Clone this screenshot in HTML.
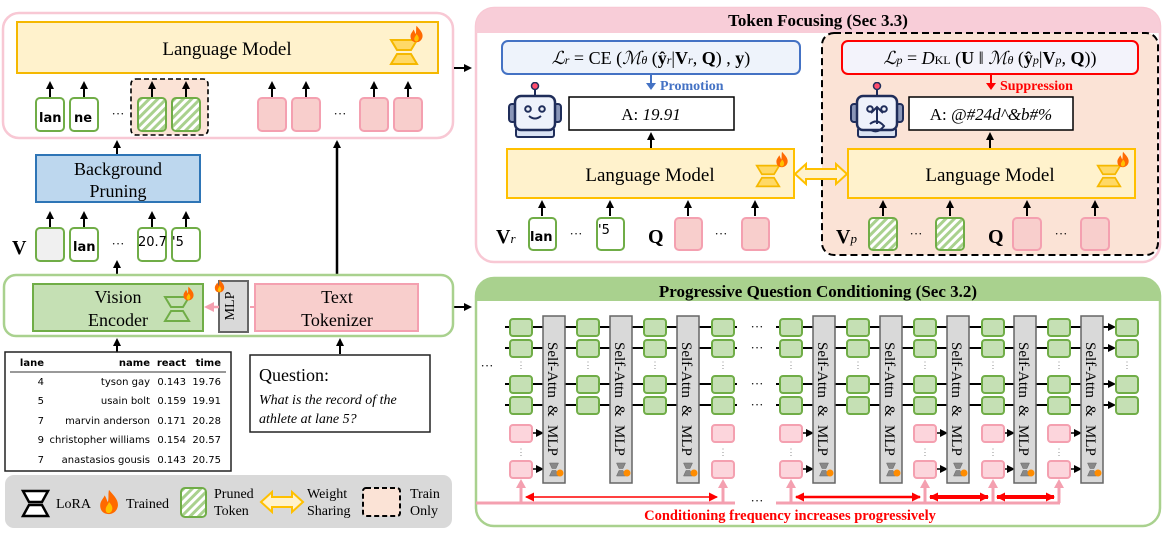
<!DOCTYPE html>
<html><head><meta charset="utf-8"><style>
html,body{margin:0;padding:0;background:#fff}
svg{display:block}
.s{font-family:"Liberation Serif",serif}
.d{font-family:"DejaVu Sans","Liberation Sans",sans-serif}
</style></head><body>
<svg width="1163" height="535" viewBox="0 0 1163 535" xmlns="http://www.w3.org/2000/svg">
<defs>
<pattern id="h" width="6" height="6" patternUnits="userSpaceOnUse" patternTransform="rotate(45)">
<rect width="6" height="6" fill="#fff"/><rect width="3" height="6" fill="#a9d18e"/></pattern>
<marker id="a" markerWidth="8" markerHeight="8" refX="6" refY="4" orient="auto" markerUnits="userSpaceOnUse"><path d="M0,0 L8,4 L0,8z" fill="#000"/></marker>
<marker id="ap" markerWidth="10" markerHeight="10" refX="7" refY="5" orient="auto" markerUnits="userSpaceOnUse"><path d="M0,0 L10,5 L0,10z" fill="#f4a0b0"/></marker>
<marker id="ar" markerWidth="9" markerHeight="9" refX="8" refY="4.5" orient="auto-start-reverse" markerUnits="userSpaceOnUse"><path d="M0,0 L9,4.5 L0,9z" fill="#f00"/></marker>
<symbol id="lora" viewBox="0 0 30 28"><path d="M2,2 H28 L22,12 H8z M8,16 H22 L28,26 H2z" fill="#ffd966" stroke="#f5b800" stroke-width="2"/></symbol>
<symbol id="flame" viewBox="0 0 20 24"><path d="M10,1 C14,6 19,10 18,16 C17,21 13,23 10,23 C6,23 2,21 2,15 C2,11 5,9 6,6 C8,9 8,11 9,12 C10,8 9,5 10,1z" fill="#ff6a00"/><path d="M10,12 C13,15 14,18 12,21 C10,23 7,22 7,19 C7,16 9,15 10,12z" fill="#ffc000"/></symbol>
<symbol id="robot" viewBox="0 0 54 56"><line x1="27" y1="4" x2="27" y2="14" stroke="#1f2d5a" stroke-width="2"/><circle cx="27" cy="4" r="3.5" fill="#ff4d6d" stroke="#1f2d5a" stroke-width="1.5"/><rect x="1" y="22" width="7" height="18" rx="3" fill="#8a96b8" stroke="#1f2d5a" stroke-width="2"/><rect x="46" y="22" width="7" height="18" rx="3" fill="#8a96b8" stroke="#1f2d5a" stroke-width="2"/><rect x="8" y="46" width="38" height="9" rx="2" fill="#dae3f3" stroke="#1f2d5a" stroke-width="2"/><rect x="7" y="14" width="40" height="34" rx="6" fill="#eef2fb" stroke="#1f2d5a" stroke-width="2.5"/><circle cx="20" cy="27" r="2.8" fill="none" stroke="#1f2d5a" stroke-width="2"/><circle cx="34" cy="27" r="2.8" fill="none" stroke="#1f2d5a" stroke-width="2"/></symbol>
<symbol id="glora" viewBox="0 0 20 28"><path d="M1,1 H19 L14,12 H6z M6,16 H14 L19,27 H1z" fill="#888" stroke="#666" stroke-width="1"/></symbol>
<g id="sa" class="s" font-size="15"><text transform="rotate(90)" x="26" y="-5">Self-Attn</text><text transform="rotate(90)" x="89" y="-5">&amp;</text><text transform="rotate(90)" x="109" y="-5">MLP</text></g>
</defs>

<!-- ===== top-left panel ===== -->
<rect x="3" y="13" width="450" height="125" rx="16" fill="#fff" stroke="#f8c8d4" stroke-width="2.5"/>
<rect x="17" y="22" width="421" height="51" fill="#fff2cc" stroke="#f5b800" stroke-width="2"/>
<text x="227" y="55" class="s" font-size="19" text-anchor="middle">Language Model</text>
<use href="#lora" x="389" y="38" width="30" height="28"/>
<use href="#flame" x="409" y="25" width="15" height="18"/>
<rect x="131" y="79" width="77" height="56" rx="5" fill="#fbe3d6" stroke="#000" stroke-width="1.6" stroke-dasharray="5,3"/>
<g stroke="#70ad47" stroke-width="2">
<rect x="36" y="98" width="28" height="33" rx="4" fill="#fff"/>
<rect x="70" y="98" width="28" height="33" rx="4" fill="#fff"/>
<rect x="138" y="98" width="28" height="33" rx="4" fill="url(#h)"/>
<rect x="172" y="98" width="28" height="33" rx="4" fill="url(#h)"/>
</g>
<text x="39" y="122" class="d" font-size="13" font-weight="bold">lan</text>
<text x="74" y="122" class="d" font-size="13" font-weight="bold">ne</text>
<text x="118" y="118" class="s" font-size="13" text-anchor="middle">···</text>
<g stroke="#f4a0b0" stroke-width="2" fill="#f8cecc">
<rect x="258" y="98" width="28" height="33" rx="4"/><rect x="292" y="98" width="28" height="33" rx="4"/>
<rect x="360" y="98" width="28" height="33" rx="4"/><rect x="394" y="98" width="28" height="33" rx="4"/>
</g>
<text x="340" y="118" class="s" font-size="13" text-anchor="middle">···</text>
<g stroke="#000" stroke-width="2" marker-end="url(#a)">
<line x1="50" y1="97" x2="50" y2="83"/><line x1="84" y1="97" x2="84" y2="83"/>
<line x1="152" y1="97" x2="152" y2="83"/><line x1="186" y1="97" x2="186" y2="83"/>
<line x1="272" y1="97" x2="272" y2="83"/><line x1="306" y1="97" x2="306" y2="83"/>
<line x1="374" y1="97" x2="374" y2="83"/><line x1="408" y1="97" x2="408" y2="83"/>
<line x1="454" y1="68" x2="470" y2="68"/>
<line x1="117" y1="154" x2="117" y2="142"/>
<line x1="337" y1="280" x2="337" y2="142" stroke-width="2.5"/>
<line x1="50" y1="227" x2="50" y2="213"/><line x1="84" y1="227" x2="84" y2="213"/>
<line x1="152" y1="227" x2="152" y2="213"/><line x1="186" y1="227" x2="186" y2="213"/>
<line x1="117" y1="274" x2="117" y2="262"/>
<line x1="117" y1="352" x2="117" y2="340"/><line x1="340" y1="354" x2="340" y2="340"/>
<line x1="454" y1="307" x2="470" y2="307"/>
</g>
<rect x="36" y="155" width="164" height="47" fill="#bdd7ee" stroke="#2e75b6" stroke-width="2"/>
<text x="118" y="175" class="s" font-size="18" text-anchor="middle">Background</text>
<text x="118" y="197" class="s" font-size="18" text-anchor="middle">Pruning</text>
<text x="12" y="254" class="s" font-size="20" font-weight="bold">V</text>
<g stroke="#70ad47" stroke-width="2">
<rect x="36" y="228" width="28" height="33" rx="4" fill="#f0f0f0"/>
<rect x="70" y="228" width="28" height="33" rx="4" fill="#fff"/>
<rect x="138" y="228" width="28" height="33" rx="4" fill="#fff"/>
<rect x="172" y="228" width="28" height="33" rx="4" fill="#fff"/>
</g>
<text x="73" y="251" class="d" font-size="13" font-weight="bold">lan</text>
<text x="138" y="246" class="d" font-size="13">20.7</text>
<text x="172" y="246" class="d" font-size="13">'5</text>
<text x="118" y="248" class="s" font-size="13" text-anchor="middle">···</text>

<!-- ===== encoder panel ===== -->
<rect x="4" y="275" width="449" height="61" rx="12" fill="#fff" stroke="#a9d18e" stroke-width="2.5"/>
<rect x="33" y="284" width="170" height="47" fill="#c5e0b4" stroke="#70ad47" stroke-width="2"/>
<text x="118" y="303" class="s" font-size="18" text-anchor="middle">Vision</text>
<text x="118" y="326" class="s" font-size="18" text-anchor="middle">Encoder</text>
<path d="M165,297 H189 L183,307 H171z M171,311 H183 L189,321 H165z" fill="#c5e0b4" stroke="#70ad47" stroke-width="2"/>
<use href="#flame" x="182" y="286" width="13" height="15"/>
<rect x="219" y="281" width="29" height="51" fill="#d9d9d9" stroke="#666" stroke-width="2"/>
<text x="238" y="306" class="s" font-size="14" text-anchor="middle" transform="rotate(-90 238 306)" dy="-4">MLP</text>
<use href="#flame" x="212" y="279" width="15" height="14"/>
<rect x="255" y="284" width="163" height="47" fill="#f8cecc" stroke="#f4a0b0" stroke-width="2"/>
<text x="337" y="303" class="s" font-size="18" text-anchor="middle">Text</text>
<text x="337" y="326" class="s" font-size="18" text-anchor="middle">Tokenizer</text>
<line x1="255" y1="307" x2="250" y2="307" stroke="#f4a0b0" stroke-width="2"/>
<line x1="219" y1="307" x2="207" y2="307" stroke="#f4a0b0" stroke-width="2.5" marker-end="url(#ap)"/>

<!-- table -->
<rect x="5" y="352" width="226" height="119" fill="#fff" stroke="#222" stroke-width="1.5"/>
<g class="d" font-size="10" text-anchor="end">
<g font-weight="bold"><text x="44" y="366">lane</text><text x="150" y="366">name</text><text x="186" y="366">react</text><text x="221" y="366">time</text></g>
<text x="44" y="385">4</text><text x="150" y="385">tyson gay</text><text x="186" y="385">0.143</text><text x="221" y="385">19.76</text>
<text x="44" y="404">5</text><text x="150" y="404">usain bolt</text><text x="186" y="404">0.159</text><text x="221" y="404">19.91</text>
<text x="44" y="424">7</text><text x="150" y="424">marvin anderson</text><text x="186" y="424">0.171</text><text x="221" y="424">20.28</text>
<text x="44" y="443">9</text><text x="150" y="443">christopher williams</text><text x="186" y="443">0.154</text><text x="221" y="443">20.57</text>
<text x="44" y="463">7</text><text x="150" y="463">anastasios gousis</text><text x="186" y="463">0.143</text><text x="221" y="463">20.75</text>
</g>
<line x1="10" y1="372" x2="226" y2="372" stroke="#333" stroke-width="1"/>
<!-- question -->
<rect x="250" y="355" width="180" height="77" fill="#fff" stroke="#222" stroke-width="1.5"/>
<text x="259" y="381" class="s" font-size="18">Question:</text>
<text x="259" y="404" class="s" font-size="14" font-style="italic">What is the record of the</text>
<text x="259" y="423" class="s" font-size="14" font-style="italic">athlete at lane 5?</text>

<!-- legend -->
<rect x="5" y="475" width="447" height="53" rx="9" fill="#d9d9d9"/>
<path d="M23,491 H48 L42,502 H29z M29,505 H42 L48,516 H23z" fill="#fff" stroke="#000" stroke-width="2.5"/>
<text x="56" y="508" class="s" font-size="14">LoRA</text>
<use href="#flame" x="98" y="488" width="22" height="28"/>
<text x="126" y="508" class="s" font-size="14">Trained</text>
<rect x="181" y="488" width="25" height="29" rx="4" fill="url(#h)" stroke="#70ad47" stroke-width="2"/>
<text x="214" y="498" class="s" font-size="14">Pruned</text>
<text x="214" y="515" class="s" font-size="14">Token</text>
<path d="M261,502 L272,492 V497 H292 V492 L303,502 L292,512 V507 H272 V512z" fill="#fff2cc" stroke="#ffc000" stroke-width="2"/>
<text x="307" y="498" class="s" font-size="14">Weight</text>
<text x="307" y="515" class="s" font-size="14">Sharing</text>
<rect x="363" y="488" width="37" height="28" rx="3" fill="#fbe3d6" stroke="#000" stroke-width="2" stroke-dasharray="5,3"/>
<text x="410" y="498" class="s" font-size="14">Train</text>
<text x="410" y="515" class="s" font-size="14">Only</text>

<!-- ===== Token Focusing panel ===== -->
<rect x="476" y="8" width="684" height="254" rx="18" fill="#fff" stroke="#f8c8d4" stroke-width="2.5"/>
<path d="M476,33 V26 A18,18 0 0 1 494,8 H1142 A18,18 0 0 1 1160,26 V33z" fill="#f8cdd8"/>
<text x="818" y="26" class="s" font-size="17" font-weight="bold" text-anchor="middle">Token Focusing (Sec 3.3)</text>
<rect x="822" y="33" width="336" height="222" rx="12" fill="#fbe3d6" stroke="#000" stroke-width="2" stroke-dasharray="7,4"/>
<rect x="502" y="41" width="298" height="33" rx="6" fill="#eef3fb" stroke="#4472c4" stroke-width="2"/>
<text x="651" y="64" class="s" font-size="18" text-anchor="middle"><tspan font-style="italic">ℒ</tspan><tspan font-size="12" font-style="italic">r</tspan> = CE (<tspan font-style="italic">ℳ</tspan><tspan font-size="12" font-style="italic">θ</tspan> (<tspan font-weight="bold">ŷ</tspan><tspan font-size="12" font-style="italic">r</tspan>|<tspan font-weight="bold">V</tspan><tspan font-size="12" font-style="italic">r</tspan>, <tspan font-weight="bold">Q</tspan>) , <tspan font-weight="bold">y</tspan>)</text>
<rect x="842" y="41" width="296" height="33" rx="6" fill="#f3f3fb" stroke="#f00" stroke-width="2"/>
<text x="990" y="64" class="s" font-size="18" text-anchor="middle"><tspan font-style="italic">ℒ</tspan><tspan font-size="12" font-style="italic">p</tspan> = <tspan font-style="italic">D</tspan><tspan font-size="12">KL</tspan> (<tspan font-weight="bold">U</tspan> ‖ <tspan font-style="italic">ℳ</tspan><tspan font-size="12" font-style="italic">θ</tspan> (<tspan font-weight="bold">ŷ</tspan><tspan font-size="12" font-style="italic">p</tspan>|<tspan font-weight="bold">V</tspan><tspan font-size="12" font-style="italic">p</tspan>, <tspan font-weight="bold">Q</tspan>))</text>
<line x1="651" y1="75" x2="651" y2="84" stroke="#4472c4" stroke-width="2"/><path d="M646,83 L656,83 L651,90z" fill="#4472c4"/>
<text x="660" y="90" class="s" font-size="14" font-weight="bold" fill="#4472c4">Promotion</text>
<line x1="991" y1="75" x2="991" y2="84" stroke="#f00" stroke-width="2"/><path d="M986,83 L996,83 L991,90z" fill="#f00"/>
<text x="1000" y="90" class="s" font-size="14" font-weight="bold" fill="#f00">Suppression</text>
<use href="#robot" x="508" y="82" width="54" height="56"/>
<path d="M529,116 Q535,121 541,116" fill="none" stroke="#1f2d5a" stroke-width="2"/>
<use href="#robot" x="850" y="82" width="54" height="56"/>
<path d="M877,107 V124 M871,113 L877,107 L883,113 M870,124 Q877,118 884,126 Q878,134 871,130" fill="none" stroke="#1f2d5a" stroke-width="2"/>
<rect x="569" y="97" width="165" height="33" fill="#fff" stroke="#000" stroke-width="1.5"/>
<text x="651" y="120" class="s" font-size="17" text-anchor="middle">A: <tspan font-style="italic">19.91</tspan></text>
<rect x="909" y="97" width="164" height="33" fill="#fff" stroke="#000" stroke-width="1.5"/>
<text x="991" y="120" class="s" font-size="17" text-anchor="middle">A: <tspan font-style="italic">@#24d^&amp;b#%</tspan></text>
<g stroke="#000" stroke-width="2" marker-end="url(#a)">
<line x1="651" y1="148" x2="651" y2="134"/><line x1="990" y1="148" x2="990" y2="134"/>
<line x1="542" y1="216" x2="542" y2="202"/><line x1="610" y1="216" x2="610" y2="202"/>
<line x1="688" y1="216" x2="688" y2="202"/><line x1="755" y1="216" x2="755" y2="202"/>
<line x1="883" y1="216" x2="883" y2="202"/><line x1="950" y1="216" x2="950" y2="202"/>
<line x1="1027" y1="216" x2="1027" y2="202"/><line x1="1095" y1="216" x2="1095" y2="202"/>
</g>
<rect x="507" y="149" width="287" height="49" fill="#fff2cc" stroke="#ffc000" stroke-width="2"/>
<text x="650" y="181" class="s" font-size="19" text-anchor="middle">Language Model</text>
<use href="#lora" x="755" y="163" width="26" height="26"/><use href="#flame" x="775" y="151" width="14" height="17"/>
<rect x="848" y="149" width="287" height="49" fill="#fff2cc" stroke="#ffc000" stroke-width="2"/>
<text x="990" y="181" class="s" font-size="19" text-anchor="middle">Language Model</text>
<use href="#lora" x="1096" y="163" width="26" height="26"/><use href="#flame" x="1116" y="151" width="14" height="17"/>
<path d="M795,174 L806,164 V169 H836 V164 L847,174 L836,184 V179 H806 V184z" fill="#fff2cc" stroke="#ffc000" stroke-width="2"/>
<text x="496" y="243" class="s" font-size="20" font-weight="bold">V<tspan font-size="13" font-weight="normal" font-style="italic">r</tspan></text>
<g stroke="#70ad47" stroke-width="2" fill="#fff">
<rect x="529" y="218" width="27" height="32" rx="4"/><rect x="597" y="218" width="27" height="32" rx="4"/>
</g>
<text x="530" y="241" class="d" font-size="13" font-weight="bold">lan</text>
<text x="598" y="234" class="d" font-size="13">'5</text>
<text x="576" y="238" class="s" font-size="13" text-anchor="middle">···</text>
<text x="648" y="243" class="s" font-size="20" font-weight="bold">Q</text>
<g stroke="#f4a0b0" stroke-width="2" fill="#f8cecc">
<rect x="675" y="218" width="27" height="32" rx="4"/><rect x="742" y="218" width="27" height="32" rx="4"/>
<rect x="1013" y="218" width="28" height="32" rx="4"/><rect x="1081" y="218" width="28" height="32" rx="4"/>
</g>
<text x="721" y="238" class="s" font-size="13" text-anchor="middle">···</text>
<text x="836" y="243" class="s" font-size="20" font-weight="bold">V<tspan font-size="13" font-weight="normal" font-style="italic">p</tspan></text>
<g stroke="#70ad47" stroke-width="2" fill="url(#h)">
<rect x="869" y="218" width="28" height="32" rx="4"/><rect x="936" y="218" width="28" height="32" rx="4"/>
</g>
<text x="916" y="238" class="s" font-size="13" text-anchor="middle">···</text>
<text x="988" y="243" class="s" font-size="20" font-weight="bold">Q</text>
<text x="1061" y="238" class="s" font-size="13" text-anchor="middle">···</text>

<!-- ===== Progressive Question Conditioning ===== -->
<rect x="476" y="278" width="684" height="248" rx="18" fill="#fff" stroke="#a9d18e" stroke-width="2.5"/>
<path d="M476,301 V296 A18,18 0 0 1 494,278 H1142 A18,18 0 0 1 1160,296 V301z" fill="#a9d18e"/>
<text x="818" y="297" class="s" font-size="17" font-weight="bold" text-anchor="middle">Progressive Question Conditioning (Sec 3.2)</text>
<g stroke="#000" stroke-width="2">
<line x1="505" y1="327" x2="737" y2="327"/><line x1="776" y1="327" x2="1110" y2="327"/>
<line x1="505" y1="348" x2="737" y2="348"/><line x1="776" y1="348" x2="1110" y2="348"/>
<line x1="505" y1="384" x2="737" y2="384"/><line x1="776" y1="384" x2="1110" y2="384"/>
<line x1="505" y1="405" x2="737" y2="405"/><line x1="776" y1="405" x2="1110" y2="405"/>
</g>
<g fill="#000"><path d="M1108,323 L1116,327 L1108,331z"/><path d="M1108,344 L1116,348 L1108,352z"/><path d="M1108,380 L1116,384 L1108,388z"/><path d="M1108,401 L1116,405 L1108,409z"/></g>
<g class="s" font-size="13" text-anchor="middle"><text x="757" y="331">···</text><text x="757" y="352">···</text><text x="757" y="388">···</text><text x="757" y="409">···</text><text x="487" y="370">···</text></g>
<g stroke="#70ad47" stroke-width="2" fill="#c5e0b4">
<rect x="510" y="319" width="22" height="17" rx="3"/><rect x="510" y="340" width="22" height="17" rx="3"/><rect x="510" y="376" width="22" height="17" rx="3"/><rect x="510" y="397" width="22" height="17" rx="3"/>
<rect x="577" y="319" width="22" height="17" rx="3"/><rect x="577" y="340" width="22" height="17" rx="3"/><rect x="577" y="376" width="22" height="17" rx="3"/><rect x="577" y="397" width="22" height="17" rx="3"/>
<rect x="644" y="319" width="22" height="17" rx="3"/><rect x="644" y="340" width="22" height="17" rx="3"/><rect x="644" y="376" width="22" height="17" rx="3"/><rect x="644" y="397" width="22" height="17" rx="3"/>
<rect x="712" y="319" width="22" height="17" rx="3"/><rect x="712" y="340" width="22" height="17" rx="3"/><rect x="712" y="376" width="22" height="17" rx="3"/><rect x="712" y="397" width="22" height="17" rx="3"/>
<rect x="780" y="319" width="22" height="17" rx="3"/><rect x="780" y="340" width="22" height="17" rx="3"/><rect x="780" y="376" width="22" height="17" rx="3"/><rect x="780" y="397" width="22" height="17" rx="3"/>
<rect x="847" y="319" width="22" height="17" rx="3"/><rect x="847" y="340" width="22" height="17" rx="3"/><rect x="847" y="376" width="22" height="17" rx="3"/><rect x="847" y="397" width="22" height="17" rx="3"/>
<rect x="914" y="319" width="22" height="17" rx="3"/><rect x="914" y="340" width="22" height="17" rx="3"/><rect x="914" y="376" width="22" height="17" rx="3"/><rect x="914" y="397" width="22" height="17" rx="3"/>
<rect x="982" y="319" width="22" height="17" rx="3"/><rect x="982" y="340" width="22" height="17" rx="3"/><rect x="982" y="376" width="22" height="17" rx="3"/><rect x="982" y="397" width="22" height="17" rx="3"/>
<rect x="1048" y="319" width="22" height="17" rx="3"/><rect x="1048" y="340" width="22" height="17" rx="3"/><rect x="1048" y="376" width="22" height="17" rx="3"/><rect x="1048" y="397" width="22" height="17" rx="3"/>
<rect x="1116" y="319" width="22" height="17" rx="3"/><rect x="1116" y="340" width="22" height="17" rx="3"/><rect x="1116" y="376" width="22" height="17" rx="3"/><rect x="1116" y="397" width="22" height="17" rx="3"/>
</g>
<g class="s" font-size="9" fill="#888" text-anchor="middle">
<text x="521" y="368">⋮</text><text x="588" y="368">⋮</text><text x="655" y="368">⋮</text><text x="723" y="368">⋮</text><text x="791" y="368">⋮</text><text x="858" y="368">⋮</text><text x="925" y="368">⋮</text><text x="993" y="368">⋮</text><text x="1059" y="368">⋮</text><text x="1127" y="368">⋮</text>
<text x="521" y="455">⋮</text><text x="723" y="455">⋮</text><text x="791" y="455">⋮</text><text x="925" y="455">⋮</text><text x="993" y="455">⋮</text><text x="1059" y="455">⋮</text>
</g>
<g stroke="#f4a0b0" stroke-width="2" fill="#fcd5dc">
<rect x="510" y="425" width="22" height="17" rx="3"/><rect x="510" y="461" width="22" height="17" rx="3"/>
<rect x="712" y="425" width="22" height="17" rx="3"/><rect x="712" y="461" width="22" height="17" rx="3"/>
<rect x="780" y="425" width="22" height="17" rx="3"/><rect x="780" y="461" width="22" height="17" rx="3"/>
<rect x="914" y="425" width="22" height="17" rx="3"/><rect x="914" y="461" width="22" height="17" rx="3"/>
<rect x="982" y="425" width="22" height="17" rx="3"/><rect x="982" y="461" width="22" height="17" rx="3"/>
<rect x="1048" y="425" width="22" height="17" rx="3"/><rect x="1048" y="461" width="22" height="17" rx="3"/>
</g>
<g stroke="#000" stroke-width="1.5" marker-end="url(#a)">
<line x1="533" y1="433" x2="542" y2="433"/><line x1="533" y1="469" x2="542" y2="469"/>
<line x1="803" y1="433" x2="812" y2="433"/><line x1="803" y1="469" x2="812" y2="469"/>
<line x1="937" y1="433" x2="946" y2="433"/><line x1="937" y1="469" x2="946" y2="469"/>
<line x1="1005" y1="433" x2="1013" y2="433"/><line x1="1005" y1="469" x2="1013" y2="469"/>
<line x1="1071" y1="433" x2="1080" y2="433"/><line x1="1071" y1="469" x2="1080" y2="469"/>
</g>
<g fill="#d9d9d9" stroke="#666" stroke-width="1.5">
<rect x="543" y="316" width="22" height="167"/><rect x="610" y="316" width="22" height="167"/><rect x="677" y="316" width="22" height="167"/>
<rect x="813" y="316" width="22" height="167"/><rect x="880" y="316" width="22" height="167"/><rect x="947" y="316" width="22" height="167"/>
<rect x="1014" y="316" width="22" height="167"/><rect x="1081" y="316" width="22" height="167"/>
</g>
<use href="#sa" x="543" y="316"/><use href="#sa" x="610" y="316"/><use href="#sa" x="677" y="316"/>
<use href="#sa" x="813" y="316"/><use href="#sa" x="880" y="316"/><use href="#sa" x="947" y="316"/>
<use href="#sa" x="1014" y="316"/><use href="#sa" x="1081" y="316"/>
<g>
<use href="#glora" x="549" y="462" width="10" height="15"/><circle cx="560" cy="473" r="3.5" fill="#ff8c00"/>
<use href="#glora" x="616" y="462" width="10" height="15"/><circle cx="627" cy="473" r="3.5" fill="#ff8c00"/>
<use href="#glora" x="683" y="462" width="10" height="15"/><circle cx="694" cy="473" r="3.5" fill="#ff8c00"/>
<use href="#glora" x="819" y="462" width="10" height="15"/><circle cx="830" cy="473" r="3.5" fill="#ff8c00"/>
<use href="#glora" x="886" y="462" width="10" height="15"/><circle cx="897" cy="473" r="3.5" fill="#ff8c00"/>
<use href="#glora" x="953" y="462" width="10" height="15"/><circle cx="964" cy="473" r="3.5" fill="#ff8c00"/>
<use href="#glora" x="1020" y="462" width="10" height="15"/><circle cx="1031" cy="473" r="3.5" fill="#ff8c00"/>
<use href="#glora" x="1087" y="462" width="10" height="15"/><circle cx="1098" cy="473" r="3.5" fill="#ff8c00"/>
</g>
<g stroke="#f4a0b0" stroke-width="3" fill="none">
<line x1="476" y1="503" x2="735" y2="503"/><line x1="776" y1="503" x2="1060" y2="503"/>
<line x1="521" y1="503" x2="521" y2="486"/><line x1="723" y1="503" x2="723" y2="486"/>
<line x1="791" y1="503" x2="791" y2="486"/><line x1="925" y1="503" x2="925" y2="486"/>
<line x1="993" y1="503" x2="993" y2="486"/><line x1="1059" y1="503" x2="1059" y2="486"/>
</g>
<g fill="#f4a0b0">
<path d="M516,488 L521,479 L526,488z"/><path d="M718,488 L723,479 L728,488z"/><path d="M786,488 L791,479 L796,488z"/>
<path d="M920,488 L925,479 L930,488z"/><path d="M988,488 L993,479 L998,488z"/><path d="M1054,488 L1059,479 L1064,488z"/>
</g>
<text x="757" y="505" class="s" font-size="13" text-anchor="middle">···</text>
<g stroke="#f00" fill="none">
<line x1="526" y1="497" x2="717" y2="497" stroke-width="1.5" marker-start="url(#ar)" marker-end="url(#ar)"/>
<line x1="796" y1="497" x2="920" y2="497" stroke-width="2.5" marker-start="url(#ar)" marker-end="url(#ar)"/>
<line x1="930" y1="497" x2="988" y2="497" stroke-width="4" marker-start="url(#ar)" marker-end="url(#ar)"/>
<line x1="997" y1="497" x2="1054" y2="497" stroke-width="4" marker-start="url(#ar)" marker-end="url(#ar)"/>
</g>
<text x="790" y="520" class="s" font-size="14.5" font-weight="bold" fill="#f00" text-anchor="middle">Conditioning frequency increases progressively</text>
</svg>
</body></html>
